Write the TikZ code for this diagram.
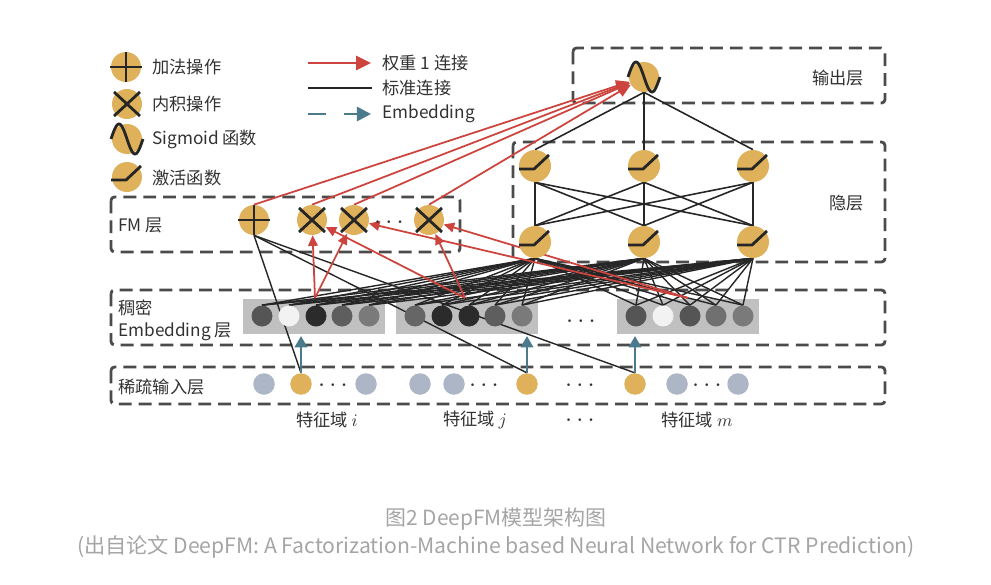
\documentclass[tikz,border=0pt]{standalone}
\usepackage{fontspec}
\usepackage{graphicx}
\setmainfont{Noto Sans CJK SC}
\usetikzlibrary{arrows.meta,calc}
\definecolor{gold}{RGB}{222,177,90}
\definecolor{redc}{RGB}{205,68,62}
\definecolor{bluec}{RGB}{74,122,140}
\definecolor{boxc}{RGB}{75,75,75}
\definecolor{txt}{RGB}{50,50,50}
\definecolor{sparseg}{RGB}{172,182,198}
\definecolor{rectg}{RGB}{192,192,192}
\definecolor{capc}{RGB}{165,165,165}
\definecolor{ea}{RGB}{85,85,85}
\definecolor{eb}{RGB}{242,242,242}
\definecolor{ec}{RGB}{43,43,43}
\definecolor{ed}{RGB}{94,94,94}
\definecolor{ee}{RGB}{122,122,122}
\definecolor{ef}{RGB}{102,102,102}
\definecolor{eg}{RGB}{112,112,112}
\pgfdeclarelayer{back}
\pgfdeclarelayer{mid}
\pgfsetlayers{back,mid,main}
\newcommand{\symplus}[1]{\draw[symline] ($(#1)+(-16,0)$) -- ($(#1)+(16,0)$) ($(#1)+(0,-15)$) -- ($(#1)+(0,15)$);}
\newcommand{\symtimes}[1]{\draw[symline] ($(#1)+(-13,-12)$) -- ($(#1)+(13,12)$) ($(#1)+(-13,12)$) -- ($(#1)+(13,-12)$);}
\newcommand{\symsig}[1]{\draw[symline,shift={(#1.center)}] plot[domain=-16:16,samples=41,smooth] (\x,{15*sin(11.25*\x)});}
\newcommand{\symact}[1]{\draw[symline,line join=round] ($(#1)+(-16,3)$) -- ($(#1)+(-1,3)$) -- ($(#1)+(14,-11)$);}
\begin{document}
\begin{tikzpicture}[x=0.02cm,y=-0.02cm,
 layerbox/.style={draw=boxc, line width=1.6pt, dash pattern=on 7.3pt off 4pt, rounded corners=2pt},
 gnode/.style={circle, fill=gold, minimum size=0.6cm, inner sep=0pt},
 hnode/.style={circle, fill=gold, minimum size=0.64cm, inner sep=0pt},
 emb/.style={circle, minimum size=0.42cm, inner sep=0pt},
 snode/.style={circle, minimum size=0.43cm, inner sep=0pt},
 symline/.style={line width=1.6pt, black!85},
 conn/.style={black!85, line width=0.8pt},
 redarr/.style={redc, line width=1pt, -{Triangle[length=6pt,width=5.5pt]}},
 bluearr/.style={bluec, line width=1.7pt, -{Triangle[length=6.5pt,width=7pt]}},
 lbl/.style={text=txt, font=\fontsize{9.8}{11}\selectfont, inner sep=0pt},
 dots/.style={text=txt, font=\fontsize{14}{14}\selectfont, inner sep=0pt},
]
\useasboundingbox (0,0) rectangle (991,585);
\begin{pgfonlayer}{back}
\fill[white] (0,0) rectangle (991,585);
\draw[layerbox] (573,48) rectangle (885,103);
\draw[layerbox] (513,142) rectangle (885,262);
\draw[layerbox] (111,197) rectangle (460,252);
\draw[layerbox] (111,290) rectangle (885,345);
\draw[layerbox] (111,367) rectangle (885,404);
\fill[rectg] (243,299) rectangle (385,334);
\fill[rectg] (396,299) rectangle (538,334);
\fill[rectg] (617,299) rectangle (759,334);
\end{pgfonlayer}

% legend
\node[gnode] (lgplus) at (126,67) {};
\node[gnode] (lgtimes) at (127,104) {};
\node[gnode] (lgsig) at (127,139) {};
\node[gnode] (lgact) at (127,177) {};
\symplus{lgplus}
\symtimes{lgtimes}
\symsig{lgsig}
\symact{lgact}
\node[lbl,anchor=west] (t1) at (152,67) {加法操作};
\node[lbl,anchor=west] (t2) at (152,104) {内积操作};
\node[lbl,anchor=west] (t3) at (152,139) {Sigmoid 函数};
\node[lbl,anchor=west] (t4) at (152,178) {激活函数};
\coordinate (ra1) at (308,63); \coordinate (ra2) at (371,63);
\coordinate (ka1) at (308,88); \coordinate (ka2) at (372,88);
\coordinate (ba1) at (308,114); \coordinate (ba2) at (371,114);
\draw[redc, line width=1.3pt, -{Triangle[length=8.5pt,width=8pt]}] (ra1) -- (ra2);
\draw[black!85, line width=1.4pt] (ka1) -- (ka2);
\draw[bluec, line width=1.5pt, dash pattern=on 10.5pt off 10pt, -{Triangle[length=8pt,width=8pt]}] (ba1) -- (ba2);
\node[lbl,anchor=west] (t5) at (382,63) {权重 1 连接};
\node[lbl,anchor=west] (t6) at (382,88) {标准连接};
\node[lbl,anchor=west] (t7) at (382,114) {Embedding};

% layer labels
\node[lbl,anchor=east] (lout) at (864,78) {输出层};
\node[lbl,anchor=east] (lhid) at (864,203) {隐层};
\node[lbl,anchor=west] (lfm) at (118,225) {FM 层};
\node[lbl,anchor=west] (lemb1) at (118,308) {稠密};
\node[lbl,anchor=west] (lemb2) at (118,332) {Embedding 层};
\node[lbl,anchor=west] (lsp) at (118,387) {稀疏输入层};
\node[lbl] (fi) at (327,420) {特征域 $i$};
\node[lbl] (fj) at (475,420) {特征域 $j$};
\node[dots] (fd) at (580,421) {$\cdots$};
\node[lbl] (fmm) at (697,420) {特征域 $m$};

% FM nodes
\node[gnode] (fp) at (254,220) {};
\node[gnode] (f1) at (312,220) {};
\node[gnode] (f2) at (354,220) {};
\node[gnode] (f3) at (429,220) {};
\node[dots] (fmd) at (389,223) {$\cdots$};

% hidden + output
\node[hnode] (u1) at (535,166) {};
\node[hnode] (u2) at (644,166) {};
\node[hnode] (u3) at (753,166) {};
\node[hnode] (l1) at (535,242) {};
\node[hnode] (l2) at (644,242) {};
\node[hnode] (l3) at (753,242) {};
\node[gnode] (o) at (644,77) {};

% embedding nodes
\foreach \nm/\xx/\cc in {e1/262/ea, e2/289/eb, e3/316/ec, e4/342/ed, e5/369/ee,
  e6/415/ef, e7/442/ec, e8/469/ec, e9/495/ed, e10/522/ee,
  e11/636/ea, e12/663/eb, e13/690/ea, e14/716/eg, e15/743/ee}
  \node[emb, fill=\cc] (\nm) at (\xx,316) {};
\node[dots] (ed) at (581,322) {$\cdots$};

% sparse nodes
\foreach \nm/\xx/\cc in {s1/264/sparseg, si/301/gold, s3/366/sparseg, s4/420/sparseg,
  s5/454/sparseg, sj/527/gold, sm/635/gold, s8/677/sparseg, s9/738/sparseg}
  \node[snode, fill=\cc] (\nm) at (\xx,384) {};
\node[dots] (sd1) at (333,386) {$\cdots$};
\node[dots] (sd2) at (484,386) {$\cdots$};
\node[dots] (sd3) at (580,386) {$\cdots$};
\node[dots] (sd4) at (707,386) {$\cdots$};

\coordinate (gi) at (315,298);
\coordinate (gj) at (465,298);
\coordinate (gm) at (688,298);
\coordinate (bi) at (301,336);
\coordinate (bj) at (527,336);
\coordinate (bm) at (635,336);

\begin{pgfonlayer}{mid}
\foreach \k in {1,...,15}
  \foreach \h in {l1,l2,l3}
    \draw[conn] (e\k.north) -- (\h.south);
\foreach \a in {l1,l2,l3}
  \foreach \b in {u1,u2,u3}
    \draw[conn, line width=0.9pt] (\a.north) -- (\b.south);
\foreach \b in {u1,u2,u3}
  \draw[conn, line width=0.9pt] (\b.north) -- (o.south);
\foreach \s in {si,sj,sm}
  \draw[conn] (fp.south) -- (\s.north);
\draw[redarr] (gi) -- (f1);
\draw[redarr] (gi) -- (f2);
\draw[redarr] (gj) -- (f1);
\draw[redarr] (gj) -- (f3);
\draw[redarr] (gm) -- (f2);
\draw[redarr] (gm) -- (f3);
\foreach \f in {fp,f1,f2,f3}
  \draw[redarr, -{Triangle[length=7.5pt,width=6.5pt]}] (\f.north) -- (o);
\draw[bluearr] (si.north) -- (bi);
\draw[bluearr] (sj.north) -- (bj);
\draw[bluearr] (sm.north) -- (bm);
\end{pgfonlayer}

\symplus{fp}
\symtimes{f1}
\symtimes{f2}
\symtimes{f3}
\symsig{o}
\foreach \n in {u1,u2,u3,l1,l2,l3} {\symact{\n}}

% caption
\node[text=capc, inner sep=0pt] (cap1) at (496,519) {\resizebox{4.42cm}{!}{图2 DeepFM模型架构图}};
\node[text=capc, inner sep=0pt] (cap2) at (496,547) {\resizebox{16.76cm}{!}{(出自论文 DeepFM: A Factorization-Machine based Neural Network for CTR Prediction)}};
\end{tikzpicture}
\end{document}
